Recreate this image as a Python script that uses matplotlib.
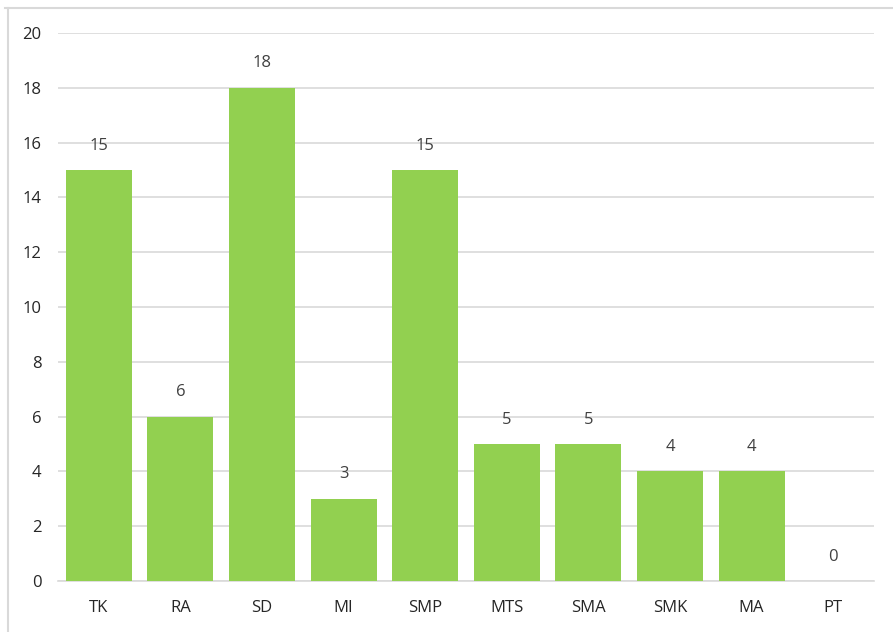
import matplotlib
matplotlib.use("Agg")
import matplotlib.pyplot as plt
from matplotlib.lines import Line2D

categories = ["TK", "RA", "SD", "MI", "SMP", "MTS", "SMA", "SMK", "MA", "PT"]
values = [15, 6, 18, 3, 15, 5, 5, 4, 4, 0]
yticks = [0, 2, 4, 6, 8, 10, 12, 14, 16, 18, 20]

plt.rcParams['font.family'] = ['Open Sans', 'DejaVu Sans']

fig = plt.figure(figsize=(8.93, 6.32), dpi=100)
ax = fig.add_axes([58/893, 1-581/632, (874-58)/893, (581-33)/632])

x = range(len(categories))
bars = ax.bar(x, values, width=0.81, color="#92D050", zorder=3)
for xi, v in zip(x, values):
    ax.text(xi, v + 0.6, str(v), ha="center", va="bottom", fontsize=12, color="#404040")

ax.set_xlim(-0.5, len(categories) - 0.5)
ax.set_ylim(0, 20)
ax.set_yticks(yticks)
ax.set_xticks(list(x))
ax.set_xticklabels(categories)
ax.yaxis.grid(True, color="#D9D9D9", linewidth=1.2, zorder=0)
ax.set_axisbelow(True)
for s in ["top", "right", "left"]:
    ax.spines[s].set_visible(False)
ax.spines["bottom"].set_color("#D9D9D9")
ax.spines["bottom"].set_linewidth(1.2)
ax.tick_params(axis="both", length=0, labelsize=12, labelcolor="#262626")
ax.tick_params(axis="y", pad=12)
ax.tick_params(axis="x", pad=14)

# outer chart border (top and left visible)
fig.add_artist(Line2D([5/893, 1], [1-8/632, 1-8/632], transform=fig.transFigure, color="#D9D9D9", linewidth=1.5))
fig.add_artist(Line2D([8/893, 8/893], [0, 1-8/632], transform=fig.transFigure, color="#D9D9D9", linewidth=1.5))

fig.savefig("out.png", dpi=100)
